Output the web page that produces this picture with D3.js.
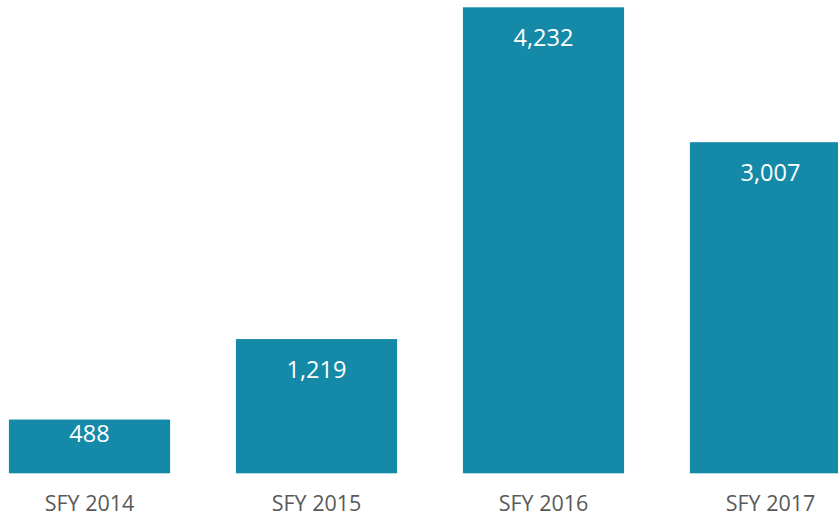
<!DOCTYPE html>
<html>
<head>
<meta charset="utf-8">
<script src="https://cdn.jsdelivr.net/npm/d3@7"></script>
<style>
  body { margin: 0; background: #fff; }
  svg { display: block; }
</style>
</head>
<body>
<div id="chart"></div>
<script>
const years = ["SFY 2014", "SFY 2015", "SFY 2016", "SFY 2017"];
const counts = [488, 1219, 4232, 3007];

const W = 838, H = 516;
const baseY = 473.3, topY = 7.3;

const svg = d3.select("#chart").append("svg")
    .attr("width", W)
    .attr("height", H);

// band step 227, bars ~161 wide, last one runs off the right edge
const x = d3.scaleBand()
    .domain(years)
    .range([-24, 884])
    .paddingInner(0.29)
    .paddingOuter(0.145);

const y = d3.scaleLinear()
    .domain([0, d3.max(counts)])
    .range([baseY, topY]);

const fmt = d3.format(",");

// bars
svg.selectAll("rect.bar")
    .data(counts)
    .join("rect")
    .attr("class", "bar")
    .attr("x", (d, i) => x(years[i]))
    .attr("y", d => y(d))
    .attr("width", x.bandwidth())
    .attr("height", d => baseY - y(d))
    .attr("fill", "#158aa8");

// value labels inside the bar end
svg.selectAll("text.val")
    .data(counts)
    .join("text")
    .attr("class", "val")
    .attr("x", (d, i) => x(years[i]) + x.bandwidth() / 2)
    .attr("y", d => Math.min(y(d) + 38.5, baseY - 31.6))
    .attr("text-anchor", "middle")
    .attr("font-family", "Open Sans")
    .attr("font-size", "23.5px")
    .attr("fill", "#ffffff")
    .text(d => fmt(d));

// category labels
const xAxis = d3.axisBottom(x).tickSize(0).tickPadding(0);
const gx = svg.append("g")
    .attr("transform", `translate(0,${baseY})`)
    .call(xAxis);
gx.select(".domain").remove();
gx.selectAll("text")
    .attr("dy", null)
    .attr("y", 37.4)
    .attr("font-family", "Open Sans")
    .attr("font-size", "21.5px")
    .attr("fill", "#595959");
</script>
</body>
</html>
